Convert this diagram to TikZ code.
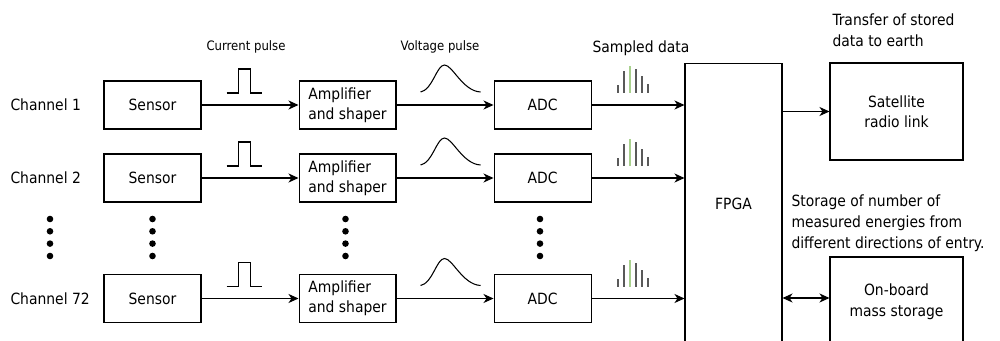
\documentclass[tikz,border=0pt]{standalone}
\usepackage{fontspec}
\setmainfont{DejaVu Sans Condensed}
\usetikzlibrary{positioning,arrows.meta}
\definecolor{BarGray}{HTML}{595959}
\definecolor{BarGreen}{HTML}{A9D18E}

\begin{document}
\begin{tikzpicture}[x=0.02cm,y=-0.02cm,node distance=1.94cm,>={Stealth[length=2mm,width=1.8mm,inset=0.6mm]},line width=0.6pt]
      \tikzstyle{block}=[draw,align=center,minimum width=1.94cm,minimum height=0.96cm,inner sep=2pt,font=\fontsize{8.8}{11.5}\selectfont]
      \tikzstyle{lbl}=[inner sep=0pt,font=\fontsize{8.8}{12}\selectfont]
      \tikzstyle{small}=[inner sep=0pt,font=\fontsize{7.4}{9}\selectfont]
      \tikzstyle{bar}=[line width=1.1pt,BarGray]
      \useasboundingbox (0,0) rectangle (1000,341);
      % channel labels
      \node[lbl,anchor=west] (ch1) at (10,105) {Channel 1};
      \node[lbl,anchor=west] (ch2) at (10,178) {Channel 2};
      \node[lbl,anchor=west] (ch72) at (10,298.5) {Channel 72};
      % rows
      \node[block] (sen1) at (152.5,105) {Sensor};
      \node[block,right=of sen1,align=left] (amp1) {Amplifier\\and shaper};
      \node[block,right=of amp1] (adc1) {ADC};
      \node[block] (sen2) at (152.5,178) {Sensor};
      \node[block,right=of sen2,align=left] (amp2) {Amplifier\\and shaper};
      \node[block,right=of amp2] (adc2) {ADC};
      \node[block] (sen72) at (152.5,298.5) {Sensor};
      \node[block,right=of sen72,align=left] (amp72) {Amplifier\\and shaper};
      \node[block,right=of amp72] (adc72) {ADC};
      % right side (lower boxes run off the page)
      \node[block,minimum height=5.64cm] (fpga) at (733.5,204) {FPGA};
      \node[block,minimum width=2.66cm,minimum height=1.94cm] (sat) at (896.5,111.5) {Satellite\\radio link};
      \node[block,minimum width=2.66cm,minimum height=1.76cm,label={[lbl,align=center,yshift=-0.02cm]center:On-board\\mass storage}] (stor) at (896.5,301) {};
      % texts
      \node[small] (cur) at (246,47) {Current pulse};
      \node[small] (volt) at (440,47) {Voltage pulse};
      \node[lbl] (samp) at (641,48) {Sampled data};
      \node[lbl,anchor=west,align=left] (xfer) at (832,30) {Transfer of stored\\data to earth};
      \node[lbl,anchor=west,align=left] (memo) at (791,223) {Storage of number of\\measured energies from\\different directions of entry.};
      % connectors
      \draw[->] (sen1) -- (amp1);
      \draw[->] (amp1) -- (adc1);
      \draw[->] (adc1) -- (adc1 -| fpga.west);
      \draw[->] (sen2) -- (amp2);
      \draw[->] (amp2) -- (adc2);
      \draw[->] (adc2) -- (adc2 -| fpga.west);
      \draw[->] (sen72) -- (amp72);
      \draw[->] (amp72) -- (adc72);
      \draw[->] (adc72) -- (adc72 -| fpga.west);
      \draw[->] (sat.west -| fpga.east) -- (sat.west);
      \draw[<->] ([yshift=0.06cm]stor.west -| fpga.east) -- ([yshift=0.06cm]stor.west);
      % pulses and samples
      \foreach \r in {1,2,72} {
        \draw[shift={(sen\r.east)}] (25,-12) -- (37,-12) -- (37,-36) -- (49,-36) -- (49,-12) -- (60,-12);
        \draw[shift={(amp\r.east)}] (24,-13) .. controls (36,-15) and (40,-40) .. (48,-40) .. controls (56,-40) and (66,-14) .. (84,-13);
        \begin{scope}[shift={(adc\r.east)}]
          \draw[bar] (26,-12) -- (26,-20);
          \draw[bar] (32,-12) -- (32,-34);
          \draw[bar,BarGreen] (38,-12) -- (38,-39);
          \draw[bar] (44,-12) -- (44,-36);
          \draw[bar] (50,-12) -- (50,-29);
          \draw[bar] (56,-12) -- (56,-21);
        \end{scope}
      }
      % dots
      \foreach \x in {50,152.5,345.5,540} {
        \foreach \y in {219,231.3,243.6,256} {
          \fill (\x,\y) circle (3.3);
        }
      }
    \end{tikzpicture}
\end{document}
